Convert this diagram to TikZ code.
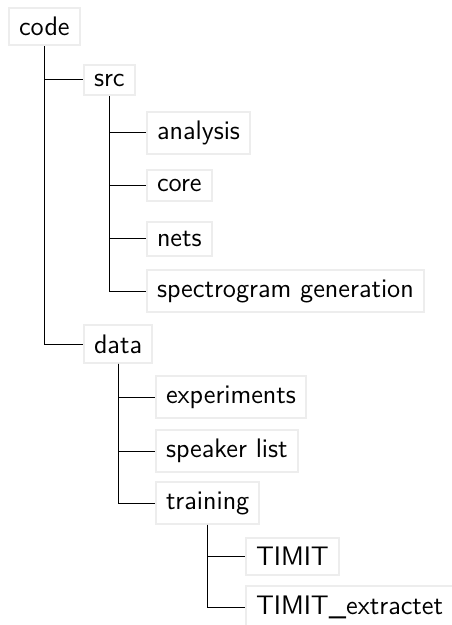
\documentclass[tikz,border=0pt]{standalone}
\usepackage{fontspec}
\begin{document}
\begin{tikzpicture}[x=0.5pt,y=-0.5pt,
  box/.style={draw=black!7, line width=1pt, fill=white, inner xsep=5pt, inner ysep=4.6pt, anchor=west,
    font=\sffamily\fontsize{13.4}{15}\selectfont},
  conn/.style={line width=0.5pt, draw=black}]
\useasboundingbox (0,0) rectangle (451,625);
\node[box] (code) at (8,26.5) {code};
\node[box] (src) at (83,80) {src};
\node[box] (analysis) at (146,133) {analysis};
\node[box] (core) at (146,185.5) {core};
\node[box] (nets) at (146,239) {nets};
\node[box] (spec) at (146,291) {spectrogram generation};
\node[box] (data) at (83,344) {data};
\node[box] (exp) at (155,397) {experiments};
\node[box] (spk) at (155,451) {speaker list};
\node[box] (train) at (155,503) {training};
\node[box] (timit) at (245,556) {TIMIT};
\node[box] (timitx) at (245,607) {TIMIT\_extractet};
\draw[conn] (code.south) |- (src.west);
\draw[conn] (code.south) |- (data.west);
\foreach \c in {analysis,core,nets,spec} \draw[conn] (src.south) |- (\c.west);
\foreach \c in {exp,spk,train} \draw[conn] (data.south) |- (\c.west);
\foreach \c in {timit,timitx} \draw[conn] (train.south) |- (\c.west);
\end{tikzpicture}
\end{document}
